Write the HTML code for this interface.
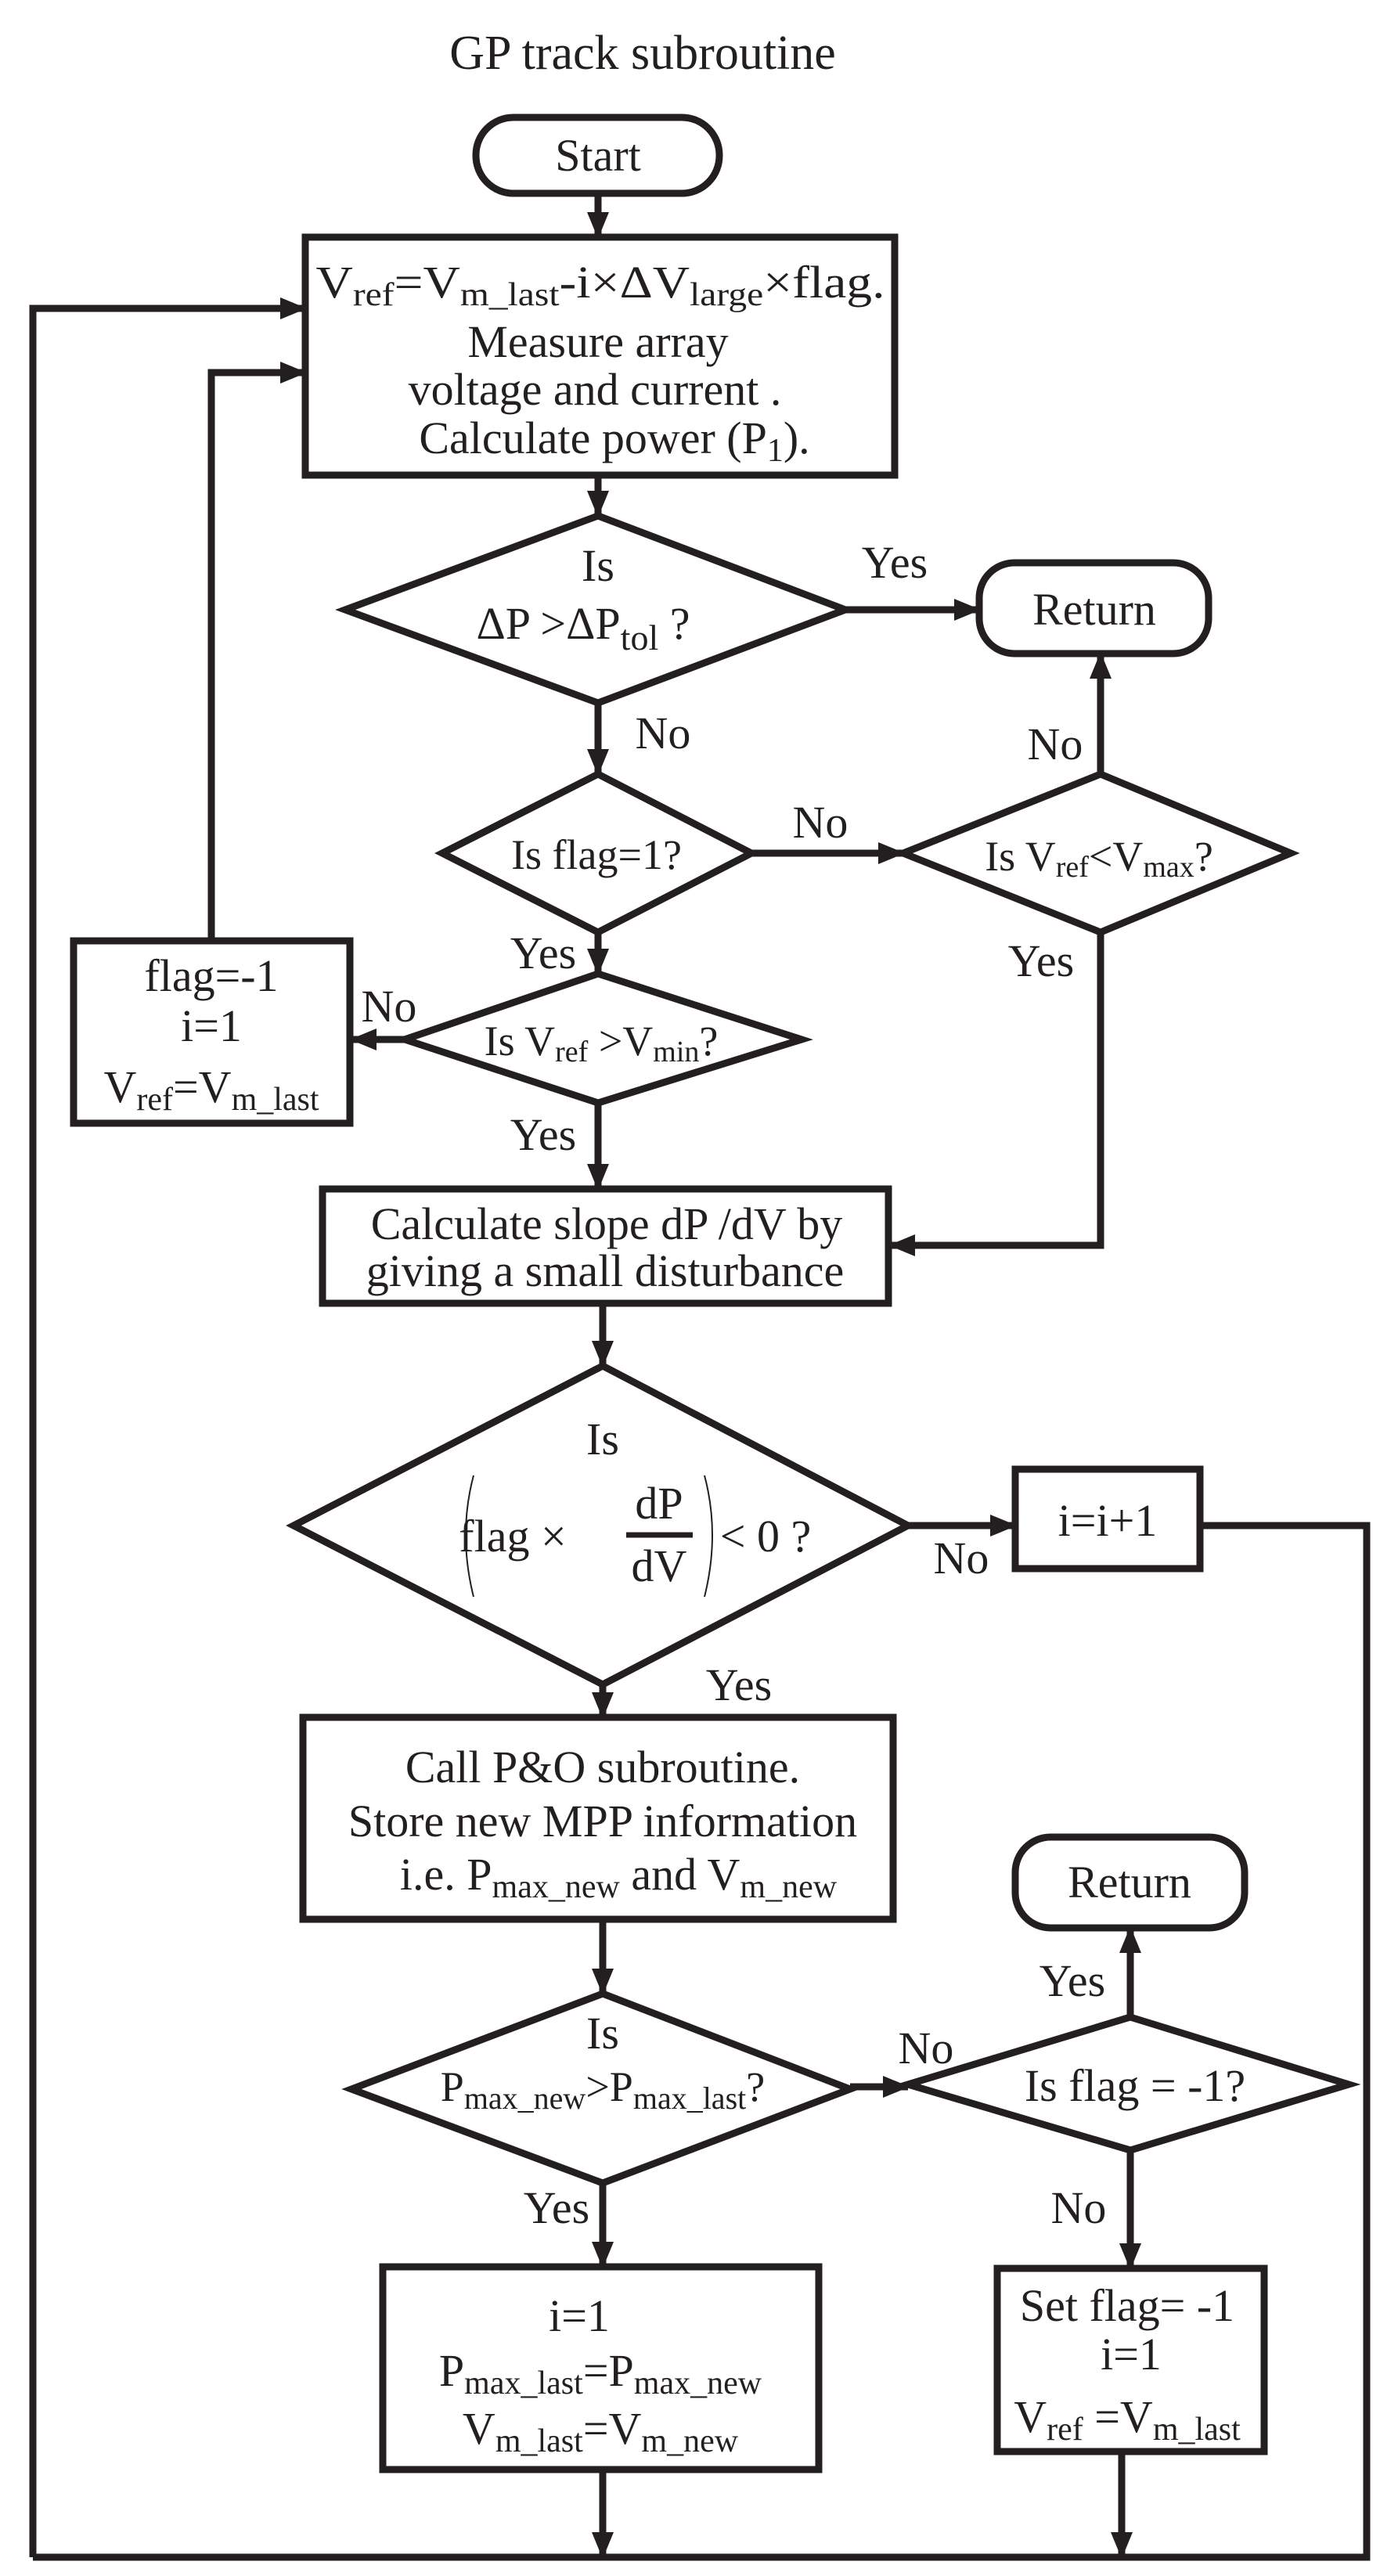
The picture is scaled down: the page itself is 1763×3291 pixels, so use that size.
<!DOCTYPE html>
<html><head><meta charset="utf-8"><style>
html,body{margin:0;padding:0;background:#fff;}
svg{display:block;}
text{font-family:"Liberation Serif",serif;fill:#231f20;}
</style></head><body>
<svg width="1763" height="3291" viewBox="0 0 1763 3291" xmlns="http://www.w3.org/2000/svg">
<defs>
<marker id="a" markerUnits="userSpaceOnUse" markerWidth="34" markerHeight="28" refX="32" refY="14" orient="auto">
<path d="M0,0 L34,14 L0,28 z" fill="#231f20"/>
</marker>
</defs>
<g stroke="#231f20" stroke-width="9" fill="none">
<rect x="608" y="150" width="311" height="97" rx="48"/>
<rect x="390" y="303" width="753" height="304"/>
<polygon points="764,659 1080,779 764,898 441,779"/>
<rect x="1251" y="719" width="293" height="116" rx="45"/>
<polygon points="764,989 960,1090 764,1191 565,1090"/>
<polygon points="1406,989 1649,1090 1406,1191 1154,1090"/>
<polygon points="764,1244 1024,1328 764,1409 517,1328"/>
<rect x="94" y="1202" width="353" height="233"/>
<rect x="412" y="1519" width="723" height="146"/>
<polygon points="770,1745 1160,1949 770,2152 375,1949"/>
<rect x="1297" y="1877" width="236" height="127"/>
<rect x="387" y="2194" width="754" height="258"/>
<polygon points="770,2547 1086,2669 770,2789 449,2669"/>
<polygon points="1444,2577 1723,2663 1444,2747 1160,2663"/>
<rect x="1297" y="2347" width="293" height="116" rx="45"/>
<rect x="1274" y="2898" width="341" height="234"/>
<rect x="489" y="2896" width="557" height="259"/>
<path d="M764,247 V303" marker-end="url(#a)"/>
<path d="M42,3267 V394 H390" marker-end="url(#a)"/>
<path d="M270,1202 V476 H390" marker-end="url(#a)"/>
<path d="M764,607 V659" marker-end="url(#a)"/>
<path d="M1080,779 H1251" marker-end="url(#a)"/>
<path d="M764,898 V989" marker-end="url(#a)"/>
<path d="M960,1090 H1154" marker-end="url(#a)"/>
<path d="M1406,989 V835" marker-end="url(#a)"/>
<path d="M1406,1191 V1591 H1137" marker-end="url(#a)"/>
<path d="M764,1191 V1244" marker-end="url(#a)"/>
<path d="M517,1328 H449" marker-end="url(#a)"/>
<path d="M764,1409 V1519" marker-end="url(#a)"/>
<path d="M770,1665 V1745" marker-end="url(#a)"/>
<path d="M1160,1949 H1297" marker-end="url(#a)"/>
<path d="M1533,1949 H1746 V3267 H42"/>
<path d="M770,2152 V2194" marker-end="url(#a)"/>
<path d="M770,2452 V2547" marker-end="url(#a)"/>
<path d="M1086,2666 H1160" marker-end="url(#a)"/>
<path d="M1444,2577 V2463" marker-end="url(#a)"/>
<path d="M1444,2747 V2898" marker-end="url(#a)"/>
<path d="M770,2789 V2896" marker-end="url(#a)"/>
<path d="M770,3155 V3267" marker-end="url(#a)"/>
<path d="M1433,3132 V3267" marker-end="url(#a)"/>
<path d="M800,1961 H885" stroke-width="7"/>
<path d="M605,1885 Q585,1960 605,2040" stroke-width="2"/>
<path d="M900,1885 Q920,1960 900,2040" stroke-width="2"/>
</g>
<g font-size="58" text-anchor="middle">
<text x="821" y="88" font-size="62">GP track subroutine</text>
<text x="764" y="218">Start</text>
<text x="767" y="380" textLength="727" lengthAdjust="spacingAndGlyphs">V<tspan font-size="42" dy="10">ref</tspan><tspan dy="-10">=V</tspan><tspan font-size="42" dy="10">m_last</tspan><tspan dy="-10">-i×ΔV</tspan><tspan font-size="42" dy="10">large</tspan><tspan dy="-10">×flag.</tspan></text>
<text x="764" y="456">Measure array</text>
<text x="760" y="517">voltage and current .</text>
<text x="785" y="579">Calculate power (P<tspan font-size="42" dy="10">1</tspan><tspan dy="-10">).</tspan></text>
<text x="764" y="742">Is</text>
<text x="745" y="816">ΔP  &gt;ΔP<tspan font-size="46" dy="14">tol</tspan><tspan dy="-14"> ?</tspan></text>
<text x="1143" y="738">Yes</text>
<text x="1398" y="798">Return</text>
<text x="847" y="956">No</text>
<text x="1348" y="970">No</text>
<text x="762" y="1110" font-size="54">Is flag=1?</text>
<text x="1048" y="1070">No</text>
<text x="1404" y="1112" font-size="54">Is V<tspan font-size="38" dy="8">ref</tspan><tspan dy="-8">&lt;V</tspan><tspan font-size="38" dy="8">max</tspan><tspan dy="-8">?</tspan></text>
<text x="694" y="1237">Yes</text>
<text x="1330" y="1247">Yes</text>
<text x="768" y="1348" font-size="54">Is V<tspan font-size="38" dy="8">ref</tspan><tspan dy="-8"> &gt;V</tspan><tspan font-size="38" dy="8">min</tspan><tspan dy="-8">?</tspan></text>
<text x="497" y="1305">No</text>
<text x="270" y="1266">flag=-1</text>
<text x="270" y="1330">i=1</text>
<text x="270" y="1408">V<tspan font-size="42" dy="10">ref</tspan><tspan dy="-10">=V</tspan><tspan font-size="42" dy="10">m_last</tspan></text>
<text x="694" y="1469">Yes</text>
<text x="775" y="1583">Calculate slope dP /dV by</text>
<text x="773" y="1643">giving a small disturbance</text>
<text x="770" y="1858">Is</text>
<text x="655" y="1982">flag ×</text>
<text x="842" y="1940">dP</text>
<text x="842" y="2020">dV</text>
<text x="978" y="1982">&lt; 0 ?</text>
<text x="1228" y="2010">No</text>
<text x="1415" y="1962">i=i+1</text>
<text x="944" y="2172">Yes</text>
<text x="770" y="2277">Call P&amp;O subroutine.</text>
<text x="770" y="2346">Store new MPP information</text>
<text x="790" y="2414">i.e. P<tspan font-size="42" dy="10">max_new</tspan><tspan dy="-10">  and V</tspan><tspan font-size="42" dy="10">m_new</tspan></text>
<text x="1443" y="2424">Return</text>
<text x="1370" y="2550">Yes</text>
<text x="770" y="2617">Is</text>
<text x="770" y="2684" font-size="54">P<tspan font-size="40" dy="10">max_new</tspan><tspan dy="-10">&gt;P</tspan><tspan font-size="40" dy="10">max_last</tspan><tspan dy="-10">?</tspan></text>
<text x="1183" y="2636">No</text>
<text x="1450" y="2684">Is flag = -1?</text>
<text x="1378" y="2840">No</text>
<text x="711" y="2840">Yes</text>
<text x="1440" y="2965">Set flag= -1</text>
<text x="1445" y="3027">i=1</text>
<text x="1440" y="3107">V<tspan font-size="42" dy="10">ref</tspan><tspan dy="-10"> =V</tspan><tspan font-size="42" dy="10">m_last</tspan></text>
<text x="740" y="2978">i=1</text>
<text x="767" y="3048">P<tspan font-size="42" dy="10">max_last</tspan><tspan dy="-10">=P</tspan><tspan font-size="42" dy="10">max_new</tspan></text>
<text x="767" y="3122">V<tspan font-size="42" dy="10">m_last</tspan><tspan dy="-10">=V</tspan><tspan font-size="42" dy="10">m_new</tspan></text>
</g>
</svg>
</body></html>
